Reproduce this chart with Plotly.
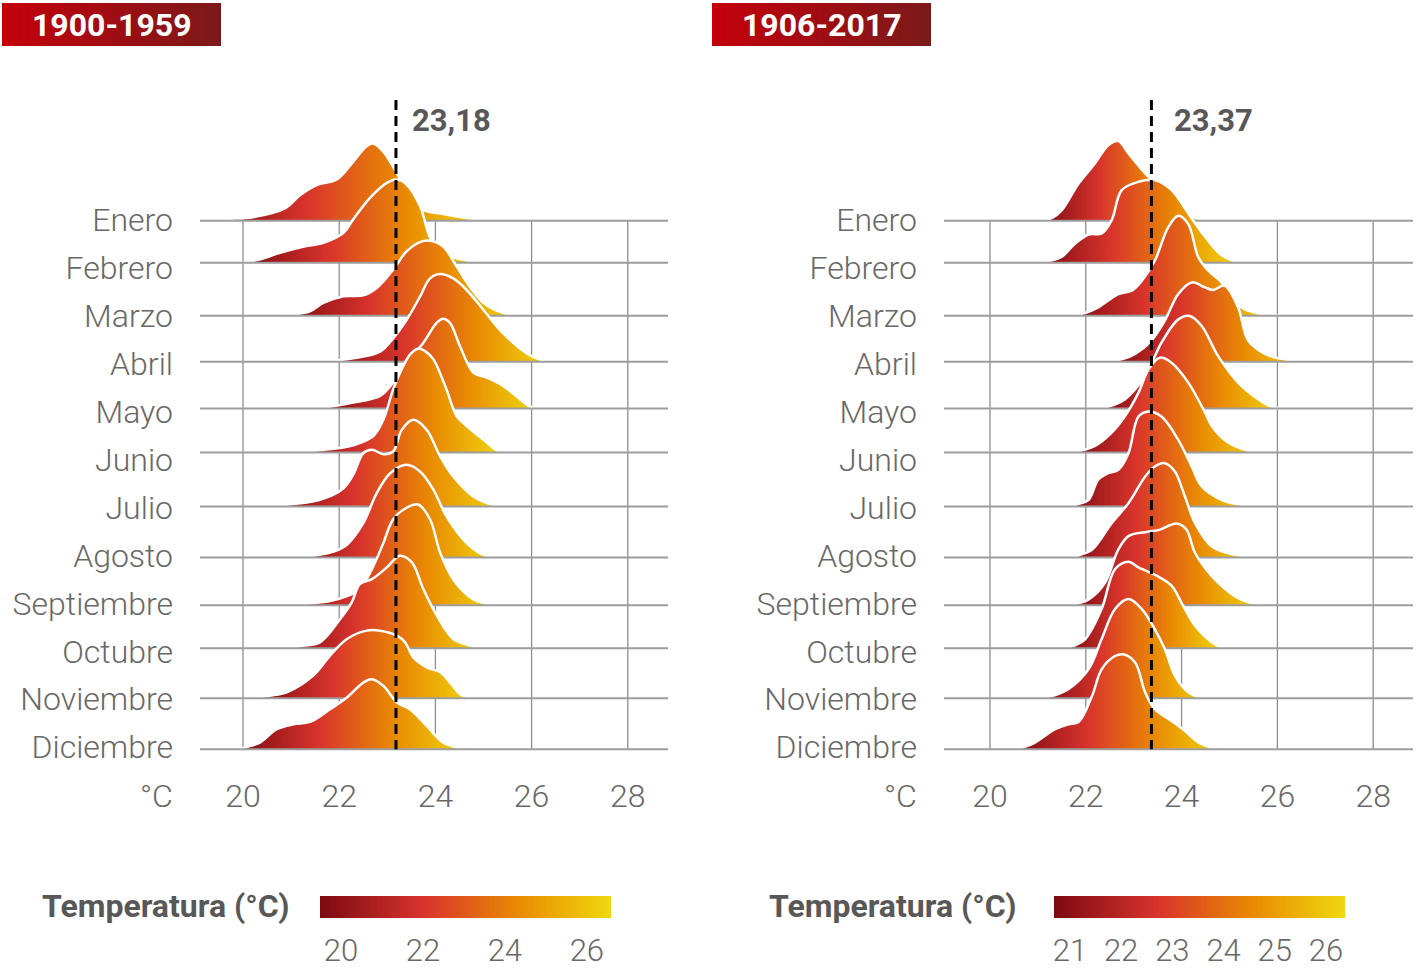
import plotly.graph_objects as go

# ---------------- data ----------------
MONTHS = ["Enero", "Febrero", "Marzo", "Abril", "Mayo", "Junio", "Julio",
          "Agosto", "Septiembre", "Octubre", "Noviembre", "Diciembre"]
PERIODS = ["1900-1959", "1906-2017"]
MEANS = [23.18, 23.37]
MEAN_LABELS = ["23,18", "23,37"]
X_TICKS = [20, 22, 24, 26, 28]
CBAR_TICKS = [[20, 22, 24, 26], [21, 22, 23, 24, 25, 26]]
CBAR_RANGE = [[19.49, 26.59], [20.69, 26.37]]
LEGEND_TITLE = "Temperatura (°C)"
UNIT = "°C"

# temperature (x) and relative density (height) per month, 1900-1959
LEFT_X = [
    [19.20, 19.70, 20.21, 20.87, 21.19, 21.53, 21.95, 22.29, 22.57, 22.71, 22.92, 23.12, 23.26, 23.49, 23.75, 24.10, 24.58, 24.85, 25.13],
    [20.00, 20.40, 20.77, 21.25, 21.67, 22.09, 22.29, 22.64, 22.99, 23.20, 23.40, 23.68, 23.89, 24.10, 24.41, 24.79, 24.99],
    [20.87, 21.10, 21.39, 21.67, 22.09, 22.50, 22.78, 23.12, 23.40, 23.68, 23.89, 24.16, 24.44, 24.70, 25.00, 25.41, 25.60, 25.80],
    [21.60, 21.95, 22.29, 22.85, 23.12, 23.40, 23.68, 23.89, 24.10, 24.37, 24.65, 25.00, 25.41, 25.90, 26.15, 26.40],
    [21.53, 21.90, 22.29, 22.85, 23.12, 23.40, 23.75, 24.03, 24.16, 24.30, 24.51, 24.79, 25.07, 25.41, 25.76, 25.95, 26.12],
    [20.91, 21.25, 21.60, 22.00, 22.29, 22.71, 22.92, 23.12, 23.30, 23.47, 23.64, 23.80, 23.96, 24.23, 24.44, 24.65, 25.07, 25.25, 25.42],
    [20.56, 21.00, 21.60, 22.09, 22.29, 22.50, 22.68, 22.92, 23.12, 23.30, 23.54, 23.82, 24.10, 24.37, 24.79, 25.10, 25.42],
    [20.91, 21.30, 21.60, 21.90, 22.16, 22.50, 22.78, 23.06, 23.40, 23.68, 23.96, 24.23, 24.65, 24.98, 25.28],
    [20.70, 21.30, 21.81, 22.15, 22.43, 22.71, 22.92, 23.12, 23.40, 23.64, 23.89, 24.10, 24.37, 24.79, 25.05, 25.28],
    [20.84, 21.25, 21.60, 22.02, 22.26, 22.43, 22.68, 22.99, 23.26, 23.51, 23.75, 24.03, 24.37, 24.70, 25.00],
    [20.21, 20.55, 20.91, 21.46, 21.81, 22.16, 22.57, 22.85, 23.20, 23.37, 23.54, 23.82, 24.10, 24.30, 24.51, 24.65, 24.80],
    [19.87, 20.10, 20.35, 20.70, 21.05, 21.39, 21.81, 22.16, 22.50, 22.68, 22.92, 23.20, 23.47, 23.82, 24.16, 24.45, 24.66],
]
LEFT_H = [
    [0, 1.8, 3.6, 12.3, 25.7, 35.7, 41.3, 59, 74.7, 77.3, 69, 54, 42.3, 22, 10.7, 7.3, 3.3, 1.5, 0],
    [0, 4, 10, 16, 20, 30, 43.3, 65, 80, 83.3, 78.3, 56.7, 25, 11, 5, 1.2, 0],
    [0, 1.5, 4.3, 12.7, 19.3, 20.3, 27.7, 46, 64.3, 73.7, 75, 69.3, 49.3, 30, 12.7, 2.7, 1.0, 0],
    [0, 1.3, 3.3, 10, 23.3, 41.7, 65, 83.3, 87.7, 83.3, 71.7, 51.7, 28.3, 8.3, 2.5, 0],
    [0, 2.5, 6, 12.7, 26, 46, 66, 86, 90, 86, 62.7, 36, 31, 22.7, 9.3, 2.5, 0],
    [0, 1, 2.3, 4.5, 7.3, 16.6, 33, 63, 83.3, 98, 104, 101, 93.3, 63.3, 36.6, 26.6, 10, 3, 0],
    [0, 2.2, 6.7, 18.3, 31.7, 53.3, 56.7, 52.3, 55, 76.7, 86.7, 76.7, 50, 30, 10, 3, 0],
    [0, 1.2, 2.7, 6, 12.7, 34.3, 64.3, 84.3, 92.7, 86, 67.7, 41, 14.3, 3, 0],
    [0, 1.5, 4.3, 9, 16, 39.3, 62.7, 86, 97.7, 101, 86, 52.7, 26, 6, 2, 0],
    [0, 2.5, 6, 29.3, 46, 64.3, 69.3, 81, 92.7, 86, 59.3, 32.7, 9.3, 3, 0],
    [0, 2.5, 6, 22.7, 42.7, 59.3, 67.7, 67.7, 62.7, 56, 41, 31, 26, 16, 4.3, 1.5, 0],
    [0, 2.5, 6.7, 20, 25, 27.3, 40, 51.7, 66.7, 70, 63.3, 46.7, 40, 23.3, 6.7, 2, 0],
]

# temperature (x) and relative density (height) per month, 1906-2017
RIGHT_X = [
    [21.08, 21.30, 21.50, 21.85, 22.19, 22.47, 22.68, 22.89, 23.24, 23.60, 23.90, 24.14, 24.30, 24.48],
    [21.04, 21.30, 21.50, 21.78, 22.06, 22.33, 22.54, 22.75, 23.10, 23.44, 23.79, 24.14, 24.49, 24.83, 25.20],
    [21.66, 22.00, 22.26, 22.68, 22.96, 23.17, 23.44, 23.72, 23.93, 24.14, 24.35, 24.56, 24.80, 25.25, 25.50, 25.76, 26.04],
    [22.50, 22.80, 23.03, 23.37, 23.65, 23.93, 24.21, 24.49, 24.66, 24.90, 25.18, 25.39, 25.74, 26.00, 26.22, 26.60],
    [22.28, 22.58, 22.82, 23.24, 23.58, 23.93, 24.17, 24.42, 24.76, 25.18, 25.60, 25.82, 26.04],
    [21.66, 21.95, 22.19, 22.54, 22.82, 23.10, 23.31, 23.55, 23.79, 24.14, 24.49, 24.63, 24.97, 25.35, 25.68],
    [21.60, 21.85, 22.06, 22.26, 22.47, 22.68, 22.89, 23.10, 23.31, 23.58, 23.93, 24.21, 24.42, 24.83, 25.20, 25.60],
    [21.60, 21.88, 22.13, 22.54, 22.89, 23.24, 23.44, 23.65, 23.86, 24.07, 24.28, 24.63, 25.11, 25.62],
    [21.60, 21.85, 22.06, 22.40, 22.68, 22.89, 23.24, 23.51, 23.90, 24.10, 24.28, 24.63, 25.11, 25.40, 25.68],
    [21.53, 21.78, 21.99, 22.33, 22.61, 22.89, 23.10, 23.48, 23.79, 24.03, 24.28, 24.63, 24.85],
    [21.04, 21.35, 21.64, 22.06, 22.33, 22.61, 22.89, 23.17, 23.44, 23.65, 23.86, 24.14, 24.35, 24.58],
    [20.49, 20.73, 20.94, 21.36, 21.64, 21.85, 22.13, 22.33, 22.61, 22.78, 23.03, 23.24, 23.44, 23.79, 24.03, 24.35, 24.60, 24.85],
]
RIGHT_H = [
    [0, 3, 10.7, 37.3, 57.3, 75.7, 79.7, 67.3, 47.3, 30, 16, 7.3, 2.5, 0],
    [0, 2.5, 6, 19.3, 28.3, 29.3, 42.7, 72.7, 81, 82.7, 72.7, 49.3, 26, 7.7, 0],
    [0, 3, 8.3, 21.7, 25, 35, 55, 88.3, 100, 91.7, 58.3, 45, 35, 8.3, 3.5, 1.2, 0],
    [0, 3, 7.7, 21, 41, 67.7, 79.3, 74.3, 71.7, 76, 54.3, 21, 7.7, 3.5, 1.7, 0],
    [0, 3.5, 9.3, 32.7, 66, 89.3, 92.7, 82.7, 52.7, 26, 9.3, 3, 0],
    [0, 2.5, 6.6, 20, 36.6, 60, 83.3, 95, 90, 70, 40, 26.6, 10, 2.5, 0],
    [0, 2.5, 6.7, 26.7, 33.3, 36.7, 53.3, 90, 95, 90, 66.7, 40, 20, 6.7, 2, 0],
    [0, 2.5, 7.7, 34.3, 54.3, 81, 91, 94.3, 86, 61, 34.3, 11, 2.7, 0],
    [0, 2.2, 6, 22.7, 56, 69.3, 73.3, 75.3, 82, 76, 52.7, 29.3, 9.3, 3, 0],
    [0, 3, 9.3, 39.3, 79.3, 86.7, 81, 72.7, 62.7, 42.7, 22.7, 6, 0],
    [0, 3, 9.3, 29.3, 59.3, 89.3, 99.3, 89.3, 69.3, 49.3, 22.7, 6, 1.5, 0],
    [0, 2.5, 6.7, 20, 25, 27.3, 53.3, 80, 93.3, 95, 86.7, 56.7, 40, 28.3, 20, 6.7, 2, 0],
]

# ---------------- layout constants ----------------
W, H = 1416, 968
FONT = "Roboto"
LIGHT_FONT = "Roboto Light, Roboto"
GREY_TXT = "#686868"
DARK_TXT = "#585858"
CS = [[0.0, "#7d0a12"], [0.36, "#d9342c"], [0.68, "#e98a02"], [1.0, "#efd80e"]]
TITLE_CS = [[0.0, "#c4000b"], [1.0, "#7b1a1a"]]

ROW_Y = [221, 263, 316, 362, 409, 453, 507, 558, 606, 649, 699, 750]  # ridge baselines (px units)
LABEL_Y = [220 + 48 * i for i in range(12)]
Y_BOTTOM = 775
MEAN_TOP = 100
MEAN_LABEL_Y = 121
HSCALE = 1.0

PANELS = [
    dict(xa="x", ya="y", px=(200, 668), zero=243, ppu=48.1, X=LEFT_X, Hh=LEFT_H,
         title_box=(2, 221), unit_x=175, leg_title_x=40, cbar_x=(320, 611), ca="coloraxis",
         label_shift=14),
    dict(xa="x2", ya="y2", px=(944, 1413), zero=990, ppu=47.9, X=RIGHT_X, Hh=RIGHT_H,
         title_box=(712, 931), unit_x=919, leg_title_x=767, cbar_x=(1054, 1345), ca="coloraxis2",
         label_shift=21),
]


def py(p):
    return 1 - p / H


fig = go.Figure()
shapes, annotations = [], []
layout = {}

for k, P in enumerate(PANELS):
    x_lo = 20 + (P["px"][0] - P["zero"]) / P["ppu"]
    x_hi = 20 + (P["px"][1] - P["zero"]) / P["ppu"]
    sfx = "" if k == 0 else "2"

    for i in range(len(MONTHS)):
        xs = P["X"][i]
        ys = [ROW_Y[i] - h * HSCALE for h in P["Hh"][i]]
        fig.add_trace(go.Scatter(
            x=xs, y=ys, mode="lines", fill="toself",
            fillgradient=dict(type="horizontal", colorscale=CS),
            line=dict(color="white", width=2.5, shape="spline", smoothing=1.0),
            xaxis=P["xa"], yaxis=P["ya"], zorder=10 + 3 * i,
            showlegend=False, hoverinfo="skip"))
        fig.add_trace(go.Scatter(
            x=[x_lo, x_hi], y=[ROW_Y[i], ROW_Y[i]], mode="lines",
            line=dict(color="#9d9d9d", width=2),
            xaxis=P["xa"], yaxis=P["ya"], zorder=11 + 3 * i,
            showlegend=False, hoverinfo="skip"))

    # dummy trace to carry the colour legend
    lo, hi = CBAR_RANGE[k]
    fig.add_trace(go.Scatter(
        x=[lo, hi], y=[-1000, -1000], mode="markers",
        marker=dict(color=[lo, hi], coloraxis=P["ca"], size=1),
        xaxis=P["xa"], yaxis=P["ya"], showlegend=False, hoverinfo="skip"))

    # vertical grid lines
    for v in X_TICKS:
        shapes.append(dict(type="line", xref=P["xa"], yref=P["ya"], x0=v, x1=v,
                           y0=ROW_Y[0], y1=ROW_Y[-1], layer="below",
                           line=dict(color="#8e8e8e", width=1.3)))
    # mean line
    shapes.append(dict(type="line", xref=P["xa"], yref=P["ya"], x0=MEANS[k], x1=MEANS[k],
                       y0=MEAN_TOP, y1=ROW_Y[-1], layer="above",
                       line=dict(color="black", width=3, dash="10px,6px")))
    annotations.append(dict(xref=P["xa"], yref=P["ya"], x=MEANS[k], y=MEAN_LABEL_Y,
                            text="<b>%s</b>" % MEAN_LABELS[k], showarrow=False,
                            xanchor="left", yanchor="middle", xshift=P["label_shift"],
                            font=dict(family=FONT, size=31, color=DARK_TXT)))
    # unit label
    annotations.append(dict(xref="paper", yref="paper", x=P["unit_x"] / W, y=py(797),
                            text=UNIT, showarrow=False, xanchor="right", yanchor="middle",
                            font=dict(family=LIGHT_FONT, size=32, color=GREY_TXT, weight=300)))
    # legend title
    annotations.append(dict(xref="paper", yref="paper", x=P["leg_title_x"] / W, y=py(907),
                            text="<b>%s</b>" % LEGEND_TITLE, showarrow=False,
                            xanchor="left", yanchor="middle",
                            font=dict(family=FONT, size=32, color=DARK_TXT)))
    # period title
    bx0, bx1 = P["title_box"]
    fig.add_trace(go.Scatter(
        x=[bx0, bx1, bx1, bx0], y=[3, 3, 46, 46], mode="lines", fill="toself",
        fillgradient=dict(type="horizontal", colorscale=TITLE_CS),
        line=dict(width=0), xaxis="x3", yaxis="y3", showlegend=False, hoverinfo="skip"))
    annotations.append(dict(xref="x3", yref="y3", x=(bx0 + bx1) / 2, y=25,
                            text="<b>%s</b>" % PERIODS[k], showarrow=False,
                            xanchor="center", yanchor="middle",
                            font=dict(family=FONT, size=32, color="white")))

    layout["xaxis" + sfx] = dict(
        domain=[P["px"][0] / W, P["px"][1] / W], range=[x_lo, x_hi],
        anchor="y" + sfx, showgrid=False, zeroline=False, showline=False,
        tickvals=X_TICKS, ticks="", ticklabelstandoff=0,
        tickfont=dict(family=LIGHT_FONT, size=32, color=GREY_TXT, weight=300), fixedrange=True)
    layout["yaxis" + sfx] = dict(
        domain=[1 - Y_BOTTOM / H, 1], range=[Y_BOTTOM, 0], anchor="x" + sfx,
        showgrid=False, zeroline=False, showline=False,
        tickvals=LABEL_Y, ticktext=MONTHS, ticks="", ticklabelstandoff=26,
        tickfont=dict(family=LIGHT_FONT, size=32, color=GREY_TXT, weight=300), fixedrange=True)

    cx0, cx1 = P["cbar_x"]
    layout[P["ca"]] = dict(
        colorscale=CS, cmin=lo, cmax=hi,
        colorbar=dict(orientation="h", lenmode="pixels", len=cx1 - cx0,
                      thicknessmode="pixels", thickness=22,
                      x=cx0 / W, xanchor="left", y=py(896), yanchor="top",
                      xpad=0, ypad=0, outlinewidth=0, borderwidth=0,
                      tickvals=CBAR_TICKS[k], ticks="outside", ticklen=6,
                      tickcolor="rgba(0,0,0,0)",
                      tickfont=dict(family=LIGHT_FONT, size=31, color=GREY_TXT, weight=300)))

layout["xaxis3"] = dict(domain=[0, 1], range=[0, W], anchor="y3", visible=False, fixedrange=True)
layout["yaxis3"] = dict(domain=[0, 1], range=[H, 0], anchor="x3", visible=False, fixedrange=True)

fig.update_layout(
    width=W, height=H, margin=dict(l=0, r=0, t=0, b=0),
    paper_bgcolor="white", plot_bgcolor="rgba(0,0,0,0)",
    shapes=shapes, annotations=annotations, showlegend=False,
    **layout)

fig.write_html("out.html", config={"displayModeBar": False},
               post_script="document.body.style.margin='0px';"
                           "document.body.style.overflow='hidden';")
